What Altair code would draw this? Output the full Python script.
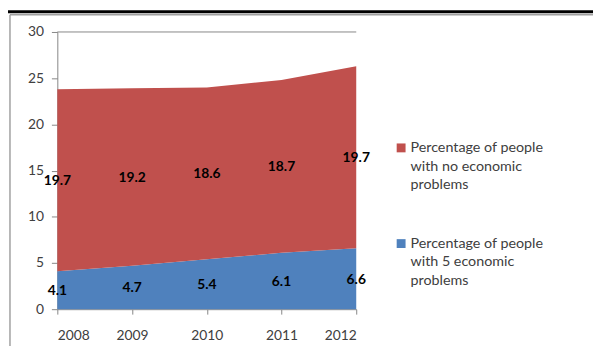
import altair as alt
import pandas as pd

years = [2008, 2009, 2010, 2011, 2012]
no_problems = [19.7, 19.2, 18.6, 18.7, 19.7]
five_problems = [4.1, 4.7, 5.4, 6.1, 6.6]
series_names = ["Percentage of people with no economic problems",
                "Percentage of people with 5 economic problems"]
series_colors = ["#C0504D", "#4F81BD"]
y_ticks = [0, 5, 10, 15, 20, 25, 30]

rows = []
for i, yr in enumerate(years):
    rows.append({"year": yr, "series": series_names[1], "value": five_problems[i], "ord": 0})
    rows.append({"year": yr, "series": series_names[0], "value": no_problems[i], "ord": 1})
df = pd.DataFrame(rows)

W, H = 303, 281
FONT = "Lato"
TXT = "#404040"

base = alt.Chart(df).transform_stack(
    stack="value", groupby=["year"], as_=["v0", "v1"],
    sort=[alt.SortField("ord", order="ascending")]
).transform_calculate(mid="(datum.v0 + datum.v1) / 2")

xscale = alt.Scale(domain=[2008, 2012], nice=False, zero=False)
yscale = alt.Scale(domain=[0, 30], nice=False)

area = base.mark_area(opacity=1).encode(
    x=alt.X("year:Q", scale=xscale,
            axis=alt.Axis(values=years, format="d", title=None, grid=False,
                          tickSize=5, labelPadding=15, labelFontSize=14)),
    y=alt.Y("v1:Q", scale=yscale,
            axis=alt.Axis(values=y_ticks, title=None, grid=False,
                          tickSize=6, labelPadding=8, labelFontSize=14)),
    y2="v0:Q",
    color=alt.Color("series:N",
                    scale=alt.Scale(domain=series_names, range=series_colors),
                    legend=None),
    order=alt.Order("ord:Q"),
)

labels = base.mark_text(fontWeight="bold", fontSize=14, font=FONT, color="black", dy=1).encode(
    x=alt.X("year:Q", scale=xscale),
    y=alt.Y("mid:Q", scale=yscale),
    text=alt.Text("value:Q", format=".1f"),
)

one = pd.DataFrame({"a": [0]})


def legend_lines(name):
    return name.replace(" with", "|with").replace(" problems", "|problems").split("|")


legend_layers = []
for name, col, sy in zip(series_names, series_colors, [117.5, 214.5]):
    legend_layers.append(
        alt.Chart(one).mark_point(shape="square", filled=True, size=81, opacity=1,
                                  color=col, strokeWidth=0).encode(
            x=alt.value(348.5), y=alt.value(sy)))
    legend_layers.append(
        alt.Chart(one).mark_text(align="left", baseline="alphabetic", font=FONT,
                                 fontSize=14.5, color=TXT, lineHeight=18.5).encode(
            x=alt.value(358), y=alt.value(sy + 4.5), text=alt.value(legend_lines(name))))

top_rule = alt.Chart(one).mark_rule(color="#868686", strokeWidth=1).encode(
    x=alt.value(0), x2=alt.value(W), y=alt.value(0))
black_line = alt.Chart(one).mark_rule(color="black", strokeWidth=3).encode(
    x=alt.value(-53), x2=alt.value(W + 240), y=alt.value(-20.5))
frame_top = alt.Chart(one).mark_rule(color="#A0A0A0", strokeWidth=1.5).encode(
    x=alt.value(-48), x2=alt.value(W + 240), y=alt.value(-17.5))
frame_left = alt.Chart(one).mark_rule(color="#A0A0A0", strokeWidth=1.5).encode(
    x=alt.value(-48), y=alt.value(-17.5), y2=alt.value(H + 40))

chart = alt.layer(area, labels, top_rule, black_line, frame_top, frame_left,
                  *legend_layers).properties(
    width=W, height=H,
    padding={"left": 50, "top": 22, "right": 240, "bottom": 35},
    autosize=alt.AutoSizeParams(type="none"),
).configure_view(stroke=None).configure_axis(
    domainColor="#868686", tickColor="#868686", labelColor=TXT,
    labelFont=FONT,
)

chart.save("out.html", embed_options={"renderer": "svg", "actions": False})
